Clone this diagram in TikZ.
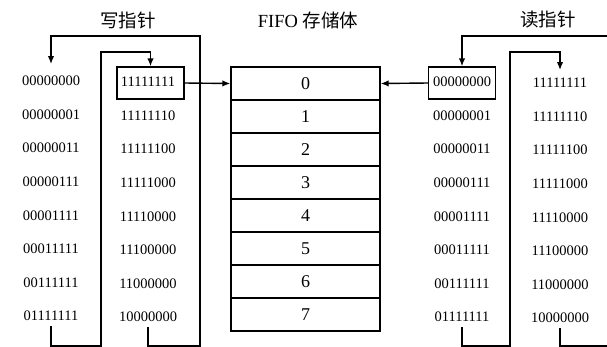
\documentclass[tikz,border=0pt]{standalone}
\usepackage{fontspec}
\setmainfont{Liberation Serif}
\newfontfamily\cjk{Noto Sans CJK SC}
\usetikzlibrary{arrows.meta,calc}
\begin{document}
\begin{tikzpicture}[x=1pt,y=-1pt,
  bit/.style={inner sep=1pt,font=\fontsize{14.5}{17}\selectfont},
  ptrbox/.style={draw,line width=1.4pt,minimum width=67pt,minimum height=32pt,inner sep=0pt,font=\fontsize{14.5}{17}\selectfont},
  cell/.style={draw,line width=1.4pt,minimum width=149pt,minimum height=33pt,inner sep=0pt,font=\fontsize{18}{21}\selectfont},
  ttl/.style={font=\fontsize{18.5}{22}\selectfont},
  conn/.style={line width=1.4pt},
  arr/.style={conn,-{Latex[length=8pt,width=6.5pt]}}]
\useasboundingbox (0,0) rectangle (607,346);
\clip (0,0) rectangle (607,346);
\fill[white] (0,0) rectangle (607,346);

% titles
\node[ttl] (t1) at (128,20) {\cjk 写指针};
\node[ttl] (t2) at (308,20) {FIFO \cjk 存储体};
\node[ttl] (t3) at (548,20) {\cjk 读指针};

% write pointer columns
\foreach \v [count=\i from 0] in {00000000,00000001,00000011,00000111,00001111,00011111,00111111,01111111}
  \node[bit] (wa\i) at (51,{81+33.57*\i}) {\v};
\foreach \v [count=\i from 0] in {11111111,11111110,11111100,11111000,11110000,11100000,11000000,10000000}
  \node[bit] (wb\i) at (148,{82+33.57*\i}) {\v};
% read pointer columns
\foreach \v [count=\i from 0] in {00000000,00000001,00000011,00000111,00001111,00011111,00111111,01111111}
  \node[bit] (ra\i) at (462,{82+33.57*\i}) {\v};
\foreach \v [count=\i from 0] in {11111111,11111110,11111100,11111000,11110000,11100000,11000000,10000000}
  \node[bit] (rb\i) at (560,{83+33.57*\i}) {\v};

% pointer boxes
\node[ptrbox] (wbox) at (150.5,83) {};
\node[ptrbox] (rbox) at (462,83) {};

% FIFO cells
\foreach \i in {0,...,7}
  \node[cell] (c\i) at (305.5,{83.5+33*\i}) {\i};

% helper coordinates
\coordinate (yTop) at (0,36);
\coordinate (yMid) at (0,52);
\coordinate (yBot) at (0,346);
\coordinate (yTipA) at (0,64);
\coordinate (yTipB) at (0,70);
\coordinate (wOutX) at (200,0);
\coordinate (wInX) at (101,0);
\coordinate (rInX) at (510,0);
\coordinate (rOutX) at (625,0);

% write pointer loops
\draw[arr] ([yshift=-4pt]wb7.south) |- (wOutX |- yBot) -- (wOutX |- yTop) -| (wa0 |- yTipA);
\draw[arr] ([yshift=-4pt]wa7.south) |- (wInX |- yBot) -- (wInX |- yMid) -| (wbox.north);
% read pointer loops
\draw[conn] ([yshift=-4pt]rb7.south) |- (rOutX |- yBot);
\draw[arr] (rOutX |- yTop) -| (rbox.north);
\draw[arr] ([yshift=-4pt]ra7.south) |- (rInX |- yBot) -- (rInX |- yMid) -| (rb0 |- yTipB);

% pointers to memory
\draw[arr] (wbox.east) -- (c0.west);
\draw[arr] (rbox.west) -- (c0.east);
\end{tikzpicture}
\end{document}
